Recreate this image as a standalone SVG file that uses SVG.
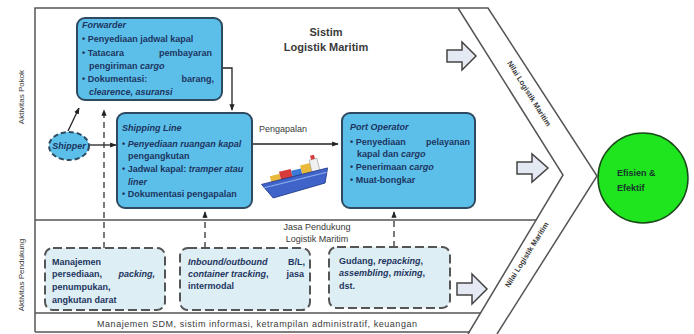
<svg xmlns="http://www.w3.org/2000/svg" width="694" height="334" viewBox="0 0 694 334">
<defs>
<style>
.t{font-family:"Liberation Sans","DejaVu Sans",sans-serif;font-size:9px;fill:#1d3560;font-weight:bold}
.i{font-style:italic}
.g{font-family:"Liberation Sans","DejaVu Sans",sans-serif;fill:#3a3a3a;font-weight:bold}
.n{font-weight:normal}
.box{fill:#5bbfea;stroke:#2f4a60;stroke-width:2}
.sbox{fill:#ddeef4;stroke:#555;stroke-width:2;stroke-dasharray:9 4}
.frame{fill:none;stroke:#555;stroke-width:1.5}
.hol{fill:#e4e9f3;stroke:#444;stroke-width:1.5;stroke-linejoin:miter}
.con{fill:none;stroke:#222;stroke-width:1.3}
.dash{fill:none;stroke:#333;stroke-width:1.3;stroke-dasharray:6 4}
</style>
<marker id="ah" viewBox="0 0 10 10" refX="9" refY="5" markerWidth="5" markerHeight="5" orient="auto">
<path d="M0,1 L10,5 L0,9 z" fill="#222"/>
</marker>
</defs>
<rect width="694" height="334" fill="#fff"/>

<g id="frame">
<path class="frame" d="M35,332 L35,8 L488,8 L597,176 L497,334" stroke-width="2"/>
<path class="frame" d="M458,8 L563,175 L468,334"/>
<line class="frame" x1="35" y1="220" x2="536" y2="220"/>
<line class="frame" x1="35" y1="313" x2="481" y2="313" stroke-width="2"/>
<line class="frame" x1="35" y1="332" x2="470" y2="332"/>
<text class="g n" font-size="8" transform="translate(24,97) rotate(-90)" text-anchor="middle">Aktivitas Pokok</text>
<text class="g n" font-size="8" transform="translate(24,275) rotate(-90)" text-anchor="middle">Aktivitas Pendukung</text>
<text class="g" font-size="7.5" transform="translate(527,95) rotate(58)" text-anchor="middle">Nilai Logistik Maritim</text>
<text class="g" font-size="7.5" transform="translate(529,256) rotate(-58)" text-anchor="middle">Nilai Logistik Maritim</text>
<text class="g" font-size="11" x="326" y="36" text-anchor="middle">Sistim</text>
<text class="g" font-size="11" x="326" y="51" text-anchor="middle">Logistik Maritim</text>
<text class="g n" font-size="9" x="317" y="230" text-anchor="middle">Jasa Pendukung</text>
<text class="g n" font-size="9" x="317" y="242" text-anchor="middle">Logistik Maritim</text>
<text class="g n" font-size="9" x="257" y="327" text-anchor="middle" textLength="320">Manajemen SDM, sistim informasi, ketrampilan administratif, keuangan</text>
</g>

<g id="hollow-arrows">
<path class="hol" d="M447,50 L462,50 L462,42 L476,56 L462,70 L462,62 L447,62 z"/>
<path class="hol" d="M517,162 L532,162 L532,154 L548,168 L532,182 L532,174 L517,174 z"/>
<path class="hol" d="M457,283 L472,283 L472,274 L487,289 L472,304 L472,295 L457,295 z"/>
</g>

<g id="connectors">
<polyline class="con" points="222,68 232,68 232,110" marker-end="url(#ah)"/>
<line class="con" x1="68" y1="131" x2="79" y2="108" marker-end="url(#ah)"/>
<line class="con" x1="89" y1="145" x2="116" y2="145" marker-end="url(#ah)"/>
<line class="con" x1="252" y1="144" x2="338" y2="144" marker-end="url(#ah)"/>
<text class="g n" font-size="9" x="283" y="132" text-anchor="middle">Pengapalan</text>
<line class="dash" x1="104" y1="248" x2="104" y2="110" marker-end="url(#ah)"/>
<line class="dash" x1="205" y1="248" x2="205" y2="212" marker-end="url(#ah)"/>
<line class="dash" x1="394" y1="247" x2="394" y2="212" marker-end="url(#ah)"/>
</g>

<g id="forwarder">
<rect class="box" x="77" y="18" width="145" height="82" rx="8"/>
<text class="t i" x="82" y="28">Forwarder</text>
<text class="t" x="82" y="42">• Penyediaan jadwal kapal</text>
<text class="t" x="82" y="56">• Tatacara</text>
<text class="t" x="212" y="56" text-anchor="end">pembayaran</text>
<text class="t" x="89" y="69">pengiriman <tspan class="i">cargo</tspan></text>
<text class="t" x="82" y="82">• Dokumentasi:</text>
<text class="t" x="214" y="82" text-anchor="end">barang,</text>
<text class="t i" x="89" y="95">clearence, asuransi</text>
</g>

<g id="shipper">
<ellipse cx="69" cy="146" rx="20" ry="14" fill="#5bbfea" stroke="#2f4a60" stroke-width="2" stroke-dasharray="5 3"/>
<text class="t i" x="69" y="149" text-anchor="middle" font-size="8">Shipper</text>
</g>

<g id="shipping-line">
<rect class="box" x="117" y="113" width="135" height="95" rx="8"/>
<text class="t i" x="122" y="131">Shipping Line</text>
<text class="t" x="122" y="147">• <tspan class="i">Penyediaan ruangan kapal</tspan></text>
<text class="t" x="128" y="159">pengangkutan</text>
<text class="t" x="122" y="172">• Jadwal kapal: <tspan class="i">tramper atau</tspan></text>
<text class="t i" x="128" y="185">liner</text>
<text class="t" x="122" y="197">• Dokumentasi pengapalan</text>
</g>

<g id="ship">
<g transform="rotate(-14 296 182)">
<rect x="272" y="170" width="10" height="8" fill="#e8b93a"/>
<rect x="282" y="168" width="12" height="10" fill="#d63a3a"/>
<rect x="294" y="170" width="10" height="8" fill="#3a7ad6"/>
<rect x="304" y="167" width="10" height="11" fill="#e8b93a"/>
<rect x="314" y="164" width="8" height="14" fill="#f0f0f0" stroke="#888" stroke-width="0.5"/>
<rect x="316" y="160" width="4" height="4" fill="#d63a3a"/>
<path d="M262,176 L330,176 L324,190 L270,192 z" fill="#3f63c8" stroke="#1e3a8a" stroke-width="0.8"/>
<path d="M264,180 L328,180" stroke="#8fb0ee" stroke-width="1"/>
</g>
</g>

<g id="port-operator">
<rect class="box" x="342" y="113" width="133" height="95" rx="8"/>
<text class="t i" x="350" y="130">Port Operator</text>
<text class="t" x="350" y="145">• Penyediaan</text>
<text class="t" x="470" y="145" text-anchor="end">pelayanan</text>
<text class="t" x="357" y="157">kapal dan <tspan class="i">cargo</tspan></text>
<text class="t" x="350" y="170">• Penerimaan <tspan class="i">cargo</tspan></text>
<text class="t" x="350" y="183">• Muat-bongkar</text>
</g>

<g id="support-1">
<rect class="sbox" x="45" y="248" width="120" height="62" rx="8"/>
<text class="t" x="52" y="265">Manajemen</text>
<text class="t" x="52" y="277">persediaan,</text>
<text class="t i" x="155" y="277" text-anchor="end">packing,</text>
<text class="t" x="52" y="290">penumpukan,</text>
<text class="t" x="52" y="303">angkutan darat</text>
</g>

<g id="support-2">
<rect class="sbox" x="180" y="248" width="130" height="62" rx="8"/>
<text class="t i" x="188" y="265">Inbound/outbound</text>
<text class="t" x="305" y="265" text-anchor="end">B/L,</text>
<text class="t" x="188" y="277"><tspan class="i">container</tspan>  <tspan class="i">tracking</tspan>,</text>
<text class="t" x="304" y="277" text-anchor="end">jasa</text>
<text class="t" x="188" y="289">intermodal</text>
</g>

<g id="support-3">
<rect class="sbox" x="329" y="247" width="121" height="61" rx="8"/>
<text class="t" x="339" y="264">Gudang, <tspan class="i">repacking</tspan>,</text>
<text class="t" x="339" y="276"><tspan class="i">assembling</tspan>, <tspan class="i">mixing</tspan>,</text>
<text class="t" x="339" y="289">dst.</text>
</g>

<g id="efisien">
<circle cx="643" cy="178" r="45" fill="#1fe51f" stroke="#1a4a1a" stroke-width="1.5"/>
<text class="t" style="fill:#16352a" x="617" y="176" font-size="9.5">Efisien &amp;</text>
<text class="t" style="fill:#16352a" x="617" y="191" font-size="9.5">Efektif</text>
</g>
</svg>
